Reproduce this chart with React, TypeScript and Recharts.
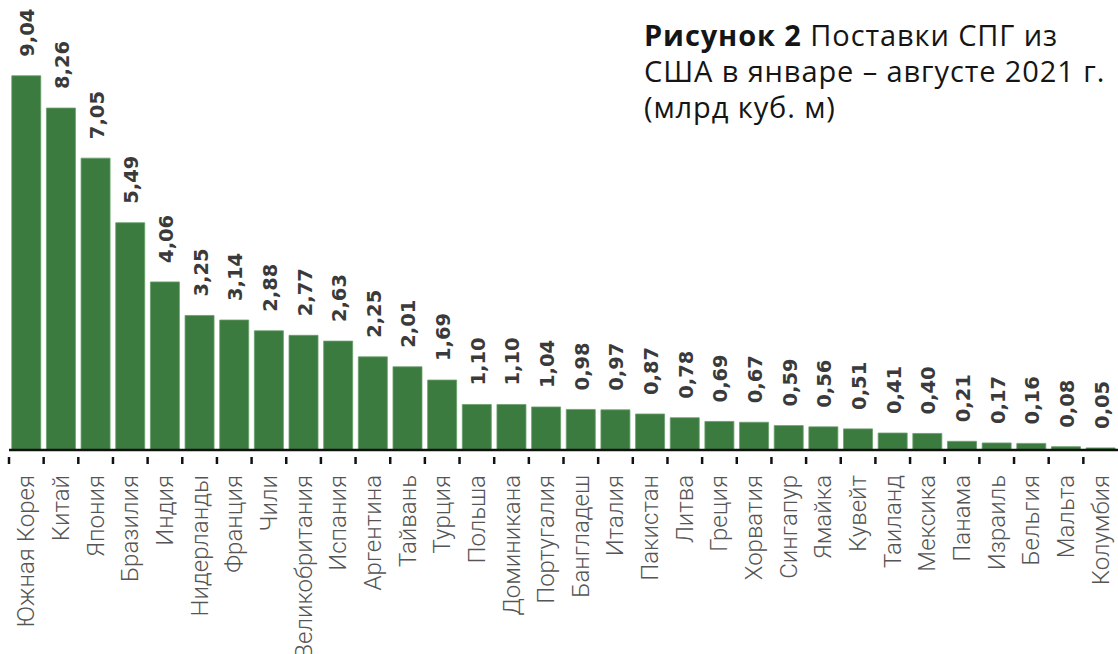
import { BarChart, Bar, XAxis, YAxis, LabelList } from 'recharts';

const countries = [
  'Южная Корея', 'Китай', 'Япония', 'Бразилия', 'Индия', 'Нидерланды', 'Франция', 'Чили',
  'Великобритания', 'Испания', 'Аргентина', 'Тайвань', 'Турция', 'Польша', 'Доминикана',
  'Португалия', 'Бангладеш', 'Италия', 'Пакистан', 'Литва', 'Греция', 'Хорватия', 'Сингапур',
  'Ямайка', 'Кувейт', 'Таиланд', 'Мексика', 'Панама', 'Израиль', 'Бельгия', 'Мальта', 'Колумбия',
];

const supplies = [
  9.04, 8.26, 7.05, 5.49, 4.06, 3.25, 3.14, 2.88, 2.77, 2.63, 2.25, 2.01, 1.69, 1.1, 1.1, 1.04,
  0.98, 0.97, 0.87, 0.78, 0.69, 0.67, 0.59, 0.56, 0.51, 0.41, 0.4, 0.21, 0.17, 0.16, 0.08, 0.05,
];

const data = countries.map((name, i) => ({ name, value: supplies[i] }));

const W = 1118;
const H = 654;
const LEFT = 9;
const band = (W - LEFT) / countries.length;

const fmt = (v: number) => v.toFixed(2).replace('.', ',');

// category label rotated, plus tick mark on the band boundary
const CountryTick = (props: any) => {
  const { x, y, payload } = props;
  const tx = x - band / 2;
  return (
    <g>
      <line x1={tx} y1={y - 1} x2={tx} y2={y + 6} stroke="#111" strokeWidth={2.5} />
      <text
        x={x}
        y={y + 17}
        transform={`rotate(-90, ${x}, ${y + 17})`}
        textAnchor="end"
        dominantBaseline="central"
        fontFamily="Roboto"
        fontWeight={300}
        fontSize={24}
        fill="#555"
      >
        {payload.value}
      </text>
    </g>
  );
};

const ValueLabel = (props: any) => {
  const { x, y, width, value } = props;
  const cx = x + width / 2 + 1.5;
  const cy = y - 19;
  return (
    <text
      x={cx}
      y={cy}
      transform={`rotate(-90, ${cx}, ${cy})`}
      textAnchor="start"
      dominantBaseline="central"
      fontFamily="DejaVu Sans"
      fontWeight={700}
      fontSize={19.5}
      fill="#3a3a3a"
    >
      {fmt(value)}
    </text>
  );
};

export default function App() {
  return (
    <div style={{ position: 'absolute', left: 0, top: 0, width: W, height: H, background: '#fff' }}>
      <BarChart
        width={W}
        height={H}
        data={data}
        margin={{ top: 36, right: 0, left: LEFT, bottom: 24 }}
        barCategoryGap="8%"
      >
        <XAxis
          dataKey="name"
          interval={0}
          height={180}
          tickLine={false}
          axisLine={{ stroke: '#111', strokeWidth: 2.5 }}
          tick={<CountryTick />}
        />
        <YAxis hide domain={[0, 10]} />
        <Bar dataKey="value" fill="#3c7b3f" stroke="#6a9e6b" strokeWidth={0.8} isAnimationActive={false}>
          <LabelList dataKey="value" content={<ValueLabel />} />
        </Bar>
      </BarChart>
      <div
        style={{
          position: 'absolute',
          left: 644,
          top: 17,
          fontFamily: 'Open Sans',
          fontSize: 29,
          lineHeight: '36px',
          letterSpacing: '0.9px',
          color: '#151515',
          width: 480,
          whiteSpace: 'nowrap',
        }}
      >
        <b>Рисунок 2</b> Поставки СПГ из
        <br />
        США в январе – августе 2021 г.
        <br />
        (млрд куб. м)
      </div>
    </div>
  );
}
